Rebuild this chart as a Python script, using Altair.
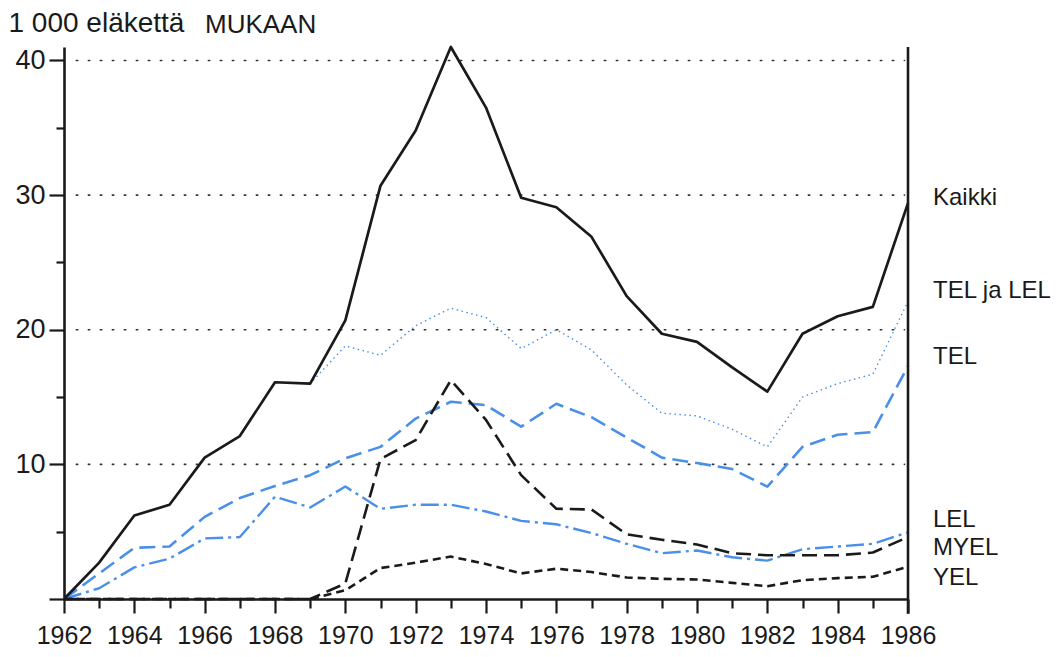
import altair as alt
import pandas as pd

years = list(range(1962, 1987))

kaikki = [0, 2.7, 6.2, 7.0, 10.5, 12.1, 16.1, 16.0, 20.7, 30.7, 34.8, 41.0, 36.5, 29.8,
          29.1, 26.9, 22.5, 19.7, 19.1, 17.2, 15.4, 19.7, 21.0, 21.7, 29.4]
tel_ja_lel = [0, 2.7, 6.2, 7.0, 10.5, 12.1, 16.1, 16.0, 18.8, 18.1, 20.3, 21.6, 20.9, 18.6,
              20.0, 18.5, 15.9, 13.8, 13.6, 12.6, 11.3, 15.0, 16.0, 16.7, 22.1]
tel = [0, 1.9, 3.8, 3.9, 6.1, 7.5, 8.4, 9.2, 10.45, 11.3, 13.4, 14.65, 14.4, 12.8,
       14.5, 13.5, 12.0, 10.5, 10.1, 9.65, 8.35, 11.3, 12.2, 12.4, 17.3]
lel = [0, 0.8, 2.35, 3.0, 4.5, 4.6, 7.6, 6.8, 8.35, 6.7, 7.0, 7.0, 6.5, 5.8,
       5.55, 4.9, 4.1, 3.4, 3.6, 3.1, 2.85, 3.7, 3.9, 4.1, 4.95]
myel = [0, 0, 0, 0, 0, 0, 0, 0, 1.15, 10.4, 11.8, 16.25, 13.3, 9.2,
        6.7, 6.65, 4.8, 4.4, 4.05, 3.4, 3.25, 3.25, 3.25, 3.45, 4.6]
yel = [0, 0, 0, 0, 0, 0, 0, 0, 0.65, 2.3, 2.7, 3.15, 2.6, 1.9,
       2.25, 2.0, 1.6, 1.5, 1.45, 1.2, 0.95, 1.4, 1.55, 1.65, 2.4]

series_names = ["TEL ja LEL", "LEL", "TEL", "YEL", "MYEL", "Kaikki"]
series_values = [tel_ja_lel, lel, tel, yel, myel, kaikki]

label_names = ["Kaikki", "TEL ja LEL", "TEL", "LEL", "MYEL", "YEL"]
label_y = [29.8, 22.9, 18.0, 5.9, 3.8, 1.55]

y_ticks = [0, 5, 10, 15, 20, 25, 30, 35, 40]
grid_values = [10, 20, 30, 40]

FONT = "Liberation Sans, Arial, sans-serif"
BLUE = "#4a8fe8"
INK = "#1a1a1a"
W, H = 844, 552
XDOM = [1962, 1986]
YDOM = [0, 41]

styles = {
    "Kaikki": dict(color=INK, strokeWidth=2.7, dash=None),
    "TEL ja LEL": dict(color=BLUE, strokeWidth=1.4, dash=[1.5, 3.5]),
    "TEL": dict(color=BLUE, strokeWidth=2.6, dash=[16, 7]),
    "LEL": dict(color=BLUE, strokeWidth=2.4, dash=[18, 5, 3, 5]),
    "MYEL": dict(color=INK, strokeWidth=2.6, dash=[15, 7]),
    "YEL": dict(color=INK, strokeWidth=2.6, dash=[8, 5]),
}

xs = alt.Scale(domain=XDOM, nice=False, zero=False)
ys = alt.Scale(domain=YDOM, nice=False)

x_axis = alt.Axis(
    values=years, labelExpr="datum.value % 2 == 0 ? datum.label : ''",
    format="d",
    tickSize={"condition": {"test": "datum.value % 2 == 0", "value": 14}, "value": 9},
    tickWidth=2.2, tickColor=INK,
    domainColor=INK, domainWidth=2.6, labelFont=FONT, labelFontSize=25,
    labelColor=INK, labelPadding=10, grid=False, title=None,
    labelFlush=False,
)
y_axis = alt.Axis(
    values=y_ticks,
    labelExpr="datum.value % 10 == 0 && datum.value > 0 ? datum.label : ''",
    tickSize={"condition": {"test": "datum.value % 10 == 0", "value": 15}, "value": 8},
    tickWidth=2.2, tickColor=INK, domainColor=INK,
    domainWidth=2.6, labelFont=FONT, labelFontSize=27, labelColor=INK,
    labelPadding=4, grid=False, title="1 000 eläkettä", titleAngle=0,
    titleAlign="left", titleBaseline="alphabetic", titleX=-56, titleY=-16,
    titleFont=FONT, titleFontSize=28, titleFontWeight="normal", titleColor=INK,
)

grid_df = pd.DataFrame({"v": grid_values})
grid = alt.Chart(grid_df).mark_rule(
    color="#333333", strokeWidth=1.6, strokeDash=[1.5, 10.5], strokeCap="round"
).encode(
    y=alt.Y("v:Q", scale=ys, axis=y_axis),
    x=alt.datum(1962.35, scale=xs, axis=x_axis),
    x2=alt.datum(1985.9),
)

layers = [grid]
for name, vals in zip(series_names, series_values):
    df = pd.DataFrame({"year": years, "v": vals})
    st = styles[name]
    kw = dict(color=st["color"], strokeWidth=st["strokeWidth"], strokeJoin="round")
    if st["dash"]:
        kw["strokeDash"] = st["dash"]
    layers.append(
        alt.Chart(df).mark_line(**kw).encode(
            x=alt.X("year:Q", scale=xs, axis=x_axis),
            y=alt.Y("v:Q", scale=ys, axis=y_axis),
        )
    )

right_axis = alt.Chart(pd.DataFrame({"year": [1986]})).mark_rule(
    color=INK, strokeWidth=2.6
).encode(
    x=alt.X("year:Q", scale=xs, axis=x_axis),
    y=alt.datum(-1.1, scale=ys, axis=y_axis),
    y2=alt.datum(41),
)

labels_df = pd.DataFrame({"name": label_names, "v": label_y})
labels = alt.Chart(labels_df).mark_text(
    align="left", baseline="middle", dx=25, font=FONT, fontSize=24, color=INK
).encode(
    x=alt.datum(1986, scale=xs, axis=x_axis),
    y=alt.Y("v:Q", scale=ys, axis=y_axis),
    text="name:N",
)

title_text = alt.Chart(pd.DataFrame({"t": ["MUKAAN"]})).mark_text(
    align="left", baseline="alphabetic", font=FONT, fontSize=26, color=INK,
).encode(x=alt.value(141), y=alt.value(-14), text="t:N")

chart = alt.layer(
    *layers, right_axis, labels, title_text
).properties(
    width=W, height=H,
    autosize=alt.AutoSizeParams(type="none"),
    padding={"left": 56, "top": 39, "right": 145, "bottom": 50},
).configure(background="white").configure_view(strokeWidth=0, stroke="transparent")

chart.save("out.html", embed_options={"renderer": "svg", "actions": False})
